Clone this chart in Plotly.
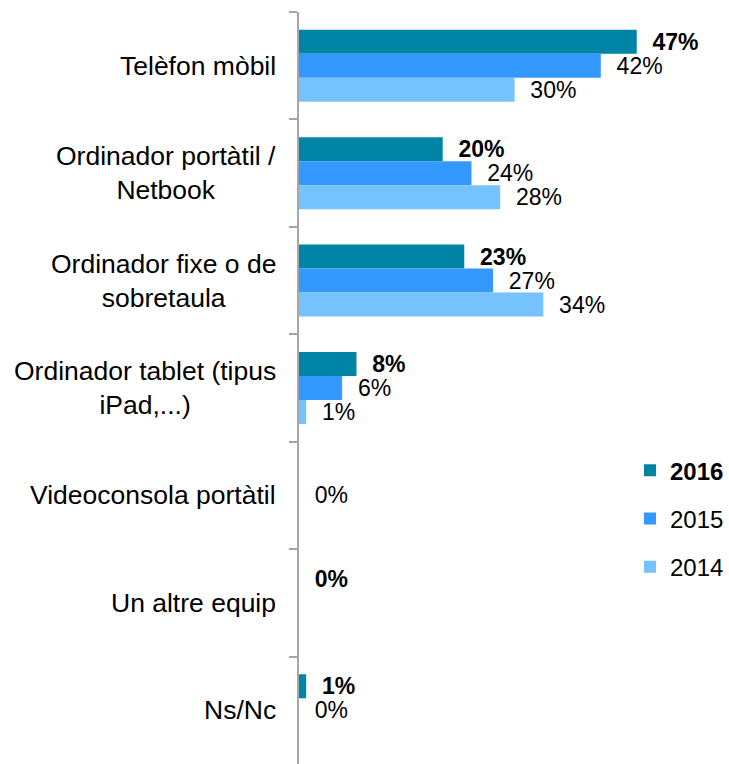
import plotly.graph_objects as go

categories = ["Telèfon mòbil", "Ordinador portàtil /<br>Netbook", "Ordinador fixe o de<br>sobretaula",
              "Ordinador tablet (tipus<br>iPad,...)", "Videoconsola portàtil", "Un altre equip", "Ns/Nc"]
cat_keys = ["Telèfon mòbil", "Ordinador portàtil / Netbook", "Ordinador fixe o de sobretaula",
            "Ordinador tablet (tipus iPad,...)", "Videoconsola portàtil", "Un altre equip", "Ns/Nc"]
years = ["2016", "2015", "2014"]
v2016 = [47, 20, 23, 8, None, 0, 1]
v2015 = [42, 24, 27, 6, 0, None, 0]
v2014 = [30, 28, 34, 1, None, None, None]
colors = ["#0084A6", "#3399FF", "#75C2FF"]

series = [v2016, v2015, v2014]
NB = "\u00a0\u00a0"

fig = go.Figure()
for i, (yr, vals, col) in enumerate(zip(years, series, colors)):
    bold = (i == 0)
    texts = [("" if v is None else (NB + (f"<b>{v}%</b>" if bold else f"{v}%"))) for v in vals]
    fig.add_trace(go.Bar(
        y=cat_keys, x=vals, orientation="h", name=(f"<b>{yr}</b>" if bold else yr),
        marker=dict(color=col, line=dict(width=0)),
        text=texts, textposition="outside", constraintext="none", cliponaxis=False,
        textfont=dict(size=23, color="#000000", family="Liberation Sans, Arial"),
        legendgroup=yr, hoverinfo="skip",
    ))

for key, lab in zip(cat_keys, categories):
    fig.add_annotation(x=0, xref="paper", y=key, yref="y", text=lab, showarrow=False,
                       xanchor="right", yanchor="middle", align="center", xshift=-21,
                       font=dict(size=26.5, color="#000000", family="Liberation Sans, Arial"))

fig.update_layout(
    width=729, height=764,
    margin=dict(l=299, r=0, t=12, b=0),
    paper_bgcolor="white", plot_bgcolor="white",
    barmode="group", bargap=0.33, bargroupgap=0,
    font=dict(family="Liberation Sans, Arial", color="#000000"),
    showlegend=True,
    legend=dict(x=0.772, xanchor="left", y=0.42, yanchor="top", traceorder="grouped",
                tracegroupgap=14, font=dict(size=24, color="#000000"),
                bgcolor="rgba(0,0,0,0)"),
    xaxis=dict(visible=False, range=[0, 59.7], showgrid=False, zeroline=False),
    yaxis=dict(autorange="reversed", showticklabels=False, showgrid=False, zeroline=False,
               showline=True, linecolor="#A6A6A6", linewidth=2,
               ticks="outside", ticklen=8, tickwidth=2, tickcolor="#A6A6A6",
               tickson="boundaries"),
)

fig.write_html("out.html", config={"displayModeBar": False},
               post_script="document.body.style.margin='0';document.body.style.overflow='hidden';")
